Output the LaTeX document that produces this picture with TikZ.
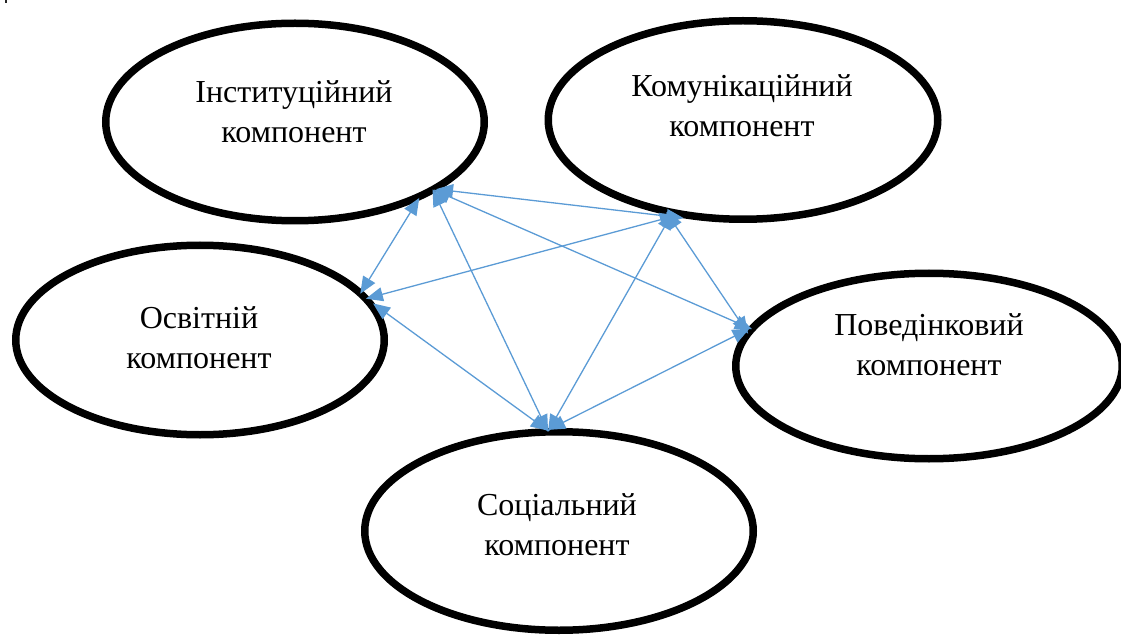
\documentclass[tikz,border=0pt]{standalone}
\usepackage{fontspec}
\setmainfont{Liberation Serif}
\usetikzlibrary{shapes.geometric,arrows.meta}
\definecolor{linkblue}{HTML}{5B9BD5}
\tikzset{
  comp/.style={draw=black, line width=7.5pt, ellipse, inner sep=0pt},
  lbl/.style={align=center, inner sep=0pt, font=\fontsize{32}{40}\selectfont},
  link/.style={draw=linkblue, line width=1.3pt, shorten <=-4pt, shorten >=-4pt,
    {Triangle[length=17pt,width=14pt]}-{Triangle[length=17pt,width=14pt]}}
}
\begin{document}
\begin{tikzpicture}[x=1pt,y=-1pt]
\useasboundingbox (0,0) rectangle (1121,636);
% small mark in the upper left corner
\fill[black!85] (4.5,0) rectangle (6.5,3.5);

% the five components
\node[comp, minimum width=378.5pt, minimum height=197.5pt] (inst) at (295,122) {};
\node[comp, minimum width=389.5pt, minimum height=198.5pt] (komm) at (743,120) {};
\node[comp, minimum width=368.5pt, minimum height=189.5pt] (osv)  at (200,340) {};
\node[comp, minimum width=386.5pt, minimum height=185.5pt] (pov)  at (929,366) {};
\node[comp, minimum width=388.5pt, minimum height=198.5pt] (soc)  at (559,531) {};

\node[lbl] (tinst) at (294,112) {Інституційний\\компонент};
\node[lbl] (tkomm) at (742,106) {Комунікаційний\\компонент};
\node[lbl] (tosv)  at (199,338) {Освітній\\компонент};
\node[lbl] (tpov)  at (929,345) {Поведінковий\\компонент};
\node[lbl] (tsoc)  at (557,525) {Соціальний\\компонент};

% mutual links
\draw[link] (inst.-25.5) -- (komm.-123.4);
\draw[link] (inst.-33)   -- (osv.17.6);
\draw[link] (inst.-27.5) -- (soc.97.6);
\draw[link] (inst.-26.7) -- (pov.168.2);
\draw[link] (komm.-126.1) -- (osv.14.4);
\draw[link] (komm.-127.6) -- (soc.95.5);
\draw[link] (komm.-128)   -- (pov.169);
\draw[link] (osv.11)     -- (soc.98.3);
\draw[link] (pov.169.6)  -- (soc.94.6);
\end{tikzpicture}
\end{document}
